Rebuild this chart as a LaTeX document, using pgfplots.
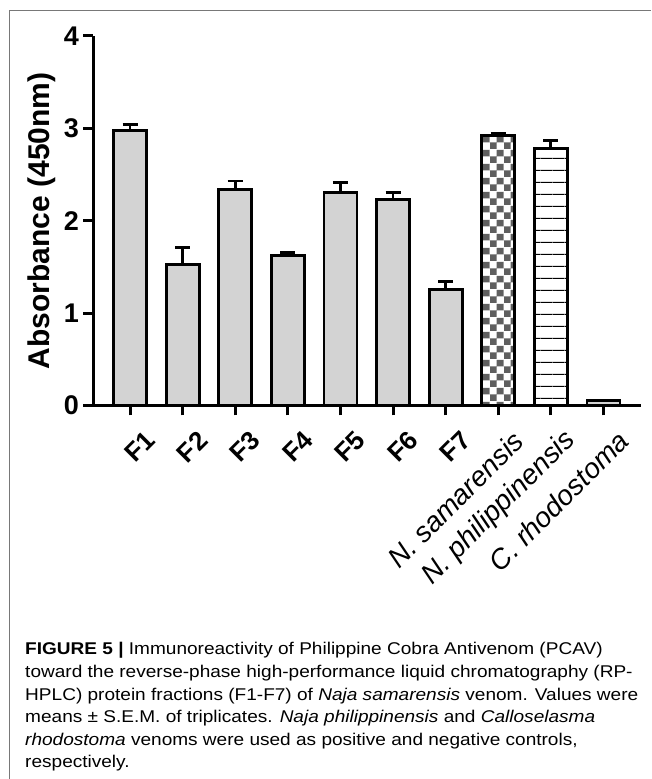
\documentclass[border=0pt]{standalone}
\usepackage{pgfplots}
\pgfplotsset{compat=1.18}
\usepackage{fontspec}
\setmainfont{Liberation Sans}
\usetikzlibrary{patterns}
\definecolor{barGray}{RGB}{211,211,211}
\definecolor{checkGray}{RGB}{95,95,95}
\definecolor{frameGray}{RGB}{120,120,120}
\pgfdeclarepatterninherentlycolored{mycheck}{\pgfpointorigin}{\pgfpoint{14pt}{14pt}}{\pgfpoint{14pt}{14pt}}{%
  \pgfsetfillcolor{white}%
  \pgfpathrectangle{\pgfpointorigin}{\pgfpoint{14pt}{14pt}}\pgfusepath{fill}%
  \pgfsetfillcolor{checkGray}%
  \pgfpathrectangle{\pgfpointorigin}{\pgfpoint{7pt}{7pt}}%
  \pgfpathrectangle{\pgfpoint{7pt}{7pt}}{\pgfpoint{7pt}{7pt}}%
  \pgfusepath{fill}%
}
\pgfdeclarepatterninherentlycolored{myhlines}{\pgfpointorigin}{\pgfpoint{11.5pt}{11.5pt}}{\pgfpoint{11.5pt}{11.5pt}}{%
  \pgfsetfillcolor{white}%
  \pgfpathrectangle{\pgfpointorigin}{\pgfpoint{11.5pt}{11.5pt}}\pgfusepath{fill}%
  \pgfsetfillcolor{black}%
  \pgfpathrectangle{\pgfpoint{0pt}{0pt}}{\pgfpoint{11.5pt}{1.3pt}}%
  \pgfusepath{fill}%
}
\newcommand{\Flab}[1]{{\bfseries\fontsize{26}{30}\selectfont #1}}
\newcommand{\Slab}[1]{{\itshape\fontsize{28}{32}\selectfont #1}}
\begin{document}
\begin{tikzpicture}
\path[use as bounding box] (0,0) rectangle (651pt,779pt);
\fill[white] (0,0) rectangle (651pt,779pt);
% frame
\draw[frameGray, line width=1pt] (9.3pt,0pt) -- (9.3pt,768.3pt) -- (651pt,768.3pt);
\begin{axis}[
  at={(93.4pt,373.5pt)}, anchor=south west,
  scale only axis, width=547.6pt, height=369.5pt,
  xmin=-0.696, xmax=9.715, ymin=0, ymax=4,
  axis lines=left,
  axis line style={-, line width=3pt, black},
  every tick/.style={black, line width=3pt},
  tick align=outside, major tick length=10pt,
  xtick={0,...,9}, ytick={0,...,4},
  yticklabels={0,1,2,3,4},
  /pgf/number format/assume math mode=true,
  yticklabel style={font=\bfseries\fontsize{27}{30}\selectfont, xshift=-1pt},
  xticklabels={\Flab{F1},\Flab{F2},\Flab{F3},\Flab{F4},\Flab{F5},\Flab{F6},\Flab{F7},\Slab{N. samarensis},\Slab{N. philippinensis},\Slab{C. rhodostoma}},
  xticklabel style={rotate=45, anchor=east, inner sep=0pt, yshift=-29pt, xshift=0pt},
  ylabel={\bfseries Absorbance (450nm)},
  ylabel style={font=\fontsize{30}{34}\selectfont, at={(axis description cs:0,0.5)}, anchor=center, yshift=52pt},
  ybar, bar width=33pt,
  clip=false,
]
\addplot[bar shift=0pt, fill=barGray, draw=black, line width=2.8pt,
  error bars/.cd, y dir=plus, y explicit,
  error bar style={line width=2.8pt, black},
  error mark options={rotate=90, mark size=7.5pt, line width=2.8pt, black}]
coordinates {
  (0,2.98) +- (0,0.06)
  (1,1.53) +- (0,0.18)
  (2,2.34) +- (0,0.09)
  (3,1.62) +- (0,0.04)
  (4,2.31) +- (0,0.10)
  (5,2.23) +- (0,0.08)
  (6,1.26) +- (0,0.08)
};
\addplot[bar shift=0pt, pattern=mycheck, draw=black, line width=2.8pt,
  error bars/.cd, y dir=plus, y explicit,
  error bar style={line width=2.8pt, black},
  error mark options={rotate=90, mark size=7.5pt, line width=2.8pt, black}]
coordinates {(7,2.92) +- (0,0.03)};
\addplot[bar shift=0pt, pattern=myhlines, draw=black, line width=2.8pt,
  error bars/.cd, y dir=plus, y explicit,
  error bar style={line width=2.8pt, black},
  error mark options={rotate=90, mark size=7.5pt, line width=2.8pt, black}]
coordinates {(8,2.78) +- (0,0.09)};
\addplot[bar shift=0pt, fill=barGray, draw=black, line width=2.8pt]
coordinates {(9,0.05)};
\end{axis}
% caption
\begin{scope}[every node/.style={anchor=base west, inner sep=0pt, xscale=1.12, font=\fontsize{17}{20}\selectfont}]
\node at (25pt,124pt) {\textbf{FIGURE 5 |} Immunoreactivity of Philippine Cobra Antivenom (PCAV)};
\node at (25pt,101.4pt) {toward the reverse-phase high-performance liquid chromatography (RP-};
\node at (25pt,78.8pt) {HPLC) protein fractions (F1-F7) of \textit{Naja samarensis} venom. Values were};
\node at (25pt,56.2pt) {means ± S.E.M. of triplicates. \textit{Naja philippinensis} and \textit{Calloselasma}};
\node at (25pt,33.6pt) {\textit{rhodostoma} venoms were used as positive and negative controls,};
\node at (25pt,11pt) {respectively.};
\end{scope}
\end{tikzpicture}
\end{document}
